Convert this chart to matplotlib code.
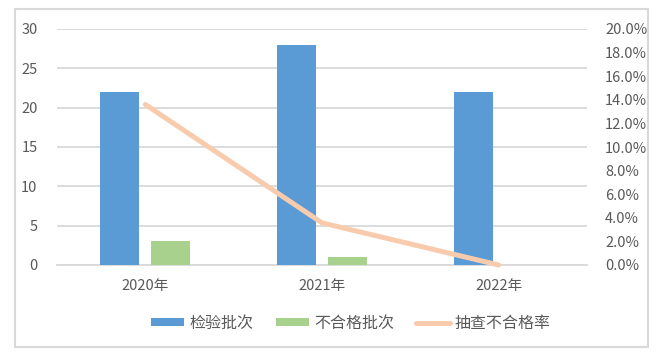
import matplotlib
matplotlib.use("Agg")
import matplotlib.pyplot as plt
import matplotlib.ticker as mticker
from matplotlib.patches import Rectangle
import numpy as np

plt.rcParams["font.family"] = ["Noto Sans CJK SC", "DejaVu Sans"]
plt.rcParams["font.weight"] = "light"

# ── data ──────────────────────────────────────────────
years = ["2020年", "2021年", "2022年"]
inspected = [22, 28, 22]
failed = [3, 1, 0]
fail_rate = [0.136, 0.0357, 0.0]

BLUE = "#5B9BD5"
GREEN = "#A9D18E"
PEACH = "#F8CBAD"
GRID = "#D9D9D9"
TEXT = "#595959"

fig = plt.figure(figsize=(6.58, 3.57), dpi=100)
fig.patches.append(Rectangle((15 / 658, 10 / 357), 633 / 658, 338 / 357,
                             transform=fig.transFigure, fill=False,
                             edgecolor=GRID, lw=1.5))

ax = fig.add_axes([57 / 658, 92 / 357, 530 / 658, 236 / 357])
x = np.arange(len(years))
w = 0.22
off = 0.144
b1 = ax.bar(x - off, inspected, w, color=BLUE, label="检验批次", zorder=3)
b2 = ax.bar(x + off, failed, w, color=GREEN, label="不合格批次", zorder=3)

ax.set_xlim(-0.5, 2.5)
ax.set_ylim(0, 30)
ax.yaxis.set_major_locator(mticker.MultipleLocator(5))
ax.grid(axis="y", color=GRID, lw=1.3, zorder=0)
ax.set_xticks(x)
ax.set_xticklabels(years)
ax.tick_params(length=0, colors=TEXT, labelsize=10.5)
ax.tick_params(axis="y", pad=14)
ax.tick_params(axis="x", pad=10)
for s in ["top", "right", "left"]:
    ax.spines[s].set_visible(False)
ax.spines["bottom"].set_color(GRID)
ax.spines["bottom"].set_linewidth(1.3)

ax2 = ax.twinx()
ln, = ax2.plot(x, fail_rate, color=PEACH, lw=3.6, label="抽查不合格率",
               solid_capstyle="round", zorder=4, clip_on=False)
ax2.set_ylim(0, 0.2)
ax2.yaxis.set_major_locator(mticker.MultipleLocator(0.02))
ax2.yaxis.set_major_formatter(mticker.FuncFormatter(lambda v, _: f"{v*100:.1f}%"))
ax2.tick_params(length=0, colors=TEXT, labelsize=10.5, pad=13)
for s in ax2.spines.values():
    s.set_visible(False)

fig.legend(handles=[b1, b2, ln], loc="center", bbox_to_anchor=(0.533, 0.095),
           ncol=3, frameon=False, fontsize=11.5, labelcolor=TEXT,
           handlelength=2.1, handleheight=0.45, handletextpad=0.3,
           columnspacing=1.4)

fig.savefig("out.png", dpi=100)
